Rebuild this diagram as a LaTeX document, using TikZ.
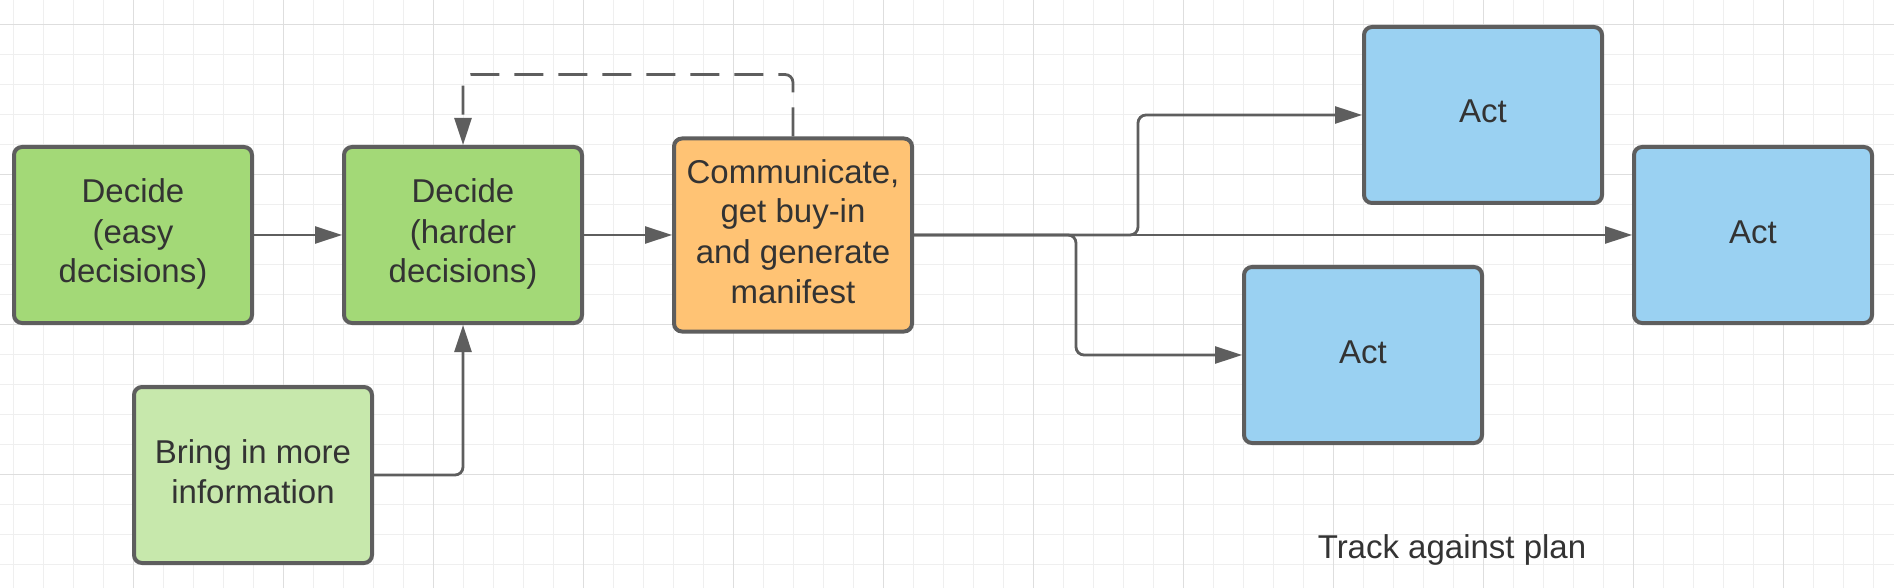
\documentclass[tikz,border=0pt]{standalone}
\usepackage{fontspec}
\setmainfont{Liberation Sans}
\usetikzlibrary{arrows.meta}

\definecolor{DecideGreen}{HTML}{A3D977}
\definecolor{InfoGreen}{HTML}{C7E8AC}
\definecolor{TalkOrange}{HTML}{FFC374}
\definecolor{ActBlue}{HTML}{9AD1F2}
\definecolor{LineGray}{HTML}{5E5E5E}
\definecolor{TextGray}{HTML}{333333}
\definecolor{GridLight}{HTML}{EFEFEF}
\definecolor{GridDark}{HTML}{DEDEDE}

% strut so that every box text sits a little above the middle
\newcommand{\bs}{\rule[-4pt]{0pt}{16pt}}

\tikzstyle{BoxBase} = [draw=LineGray, line width=2pt, rounded corners=4pt, inner sep=0pt, align=center, text=TextGray, minimum width=119pt, minimum height=88pt, font=\fontsize{16.5pt}{20pt}\selectfont]
\tikzstyle{ColorDecide} = [BoxBase, fill=DecideGreen]
\tikzstyle{ColorInfo} = [BoxBase, fill=InfoGreen]
\tikzstyle{ColorTalk} = [BoxBase, fill=TalkOrange, minimum height=96.5pt]
\tikzstyle{ColorAct} = [BoxBase, fill=ActBlue]
\tikzstyle{LineArrow} = [draw=LineGray, line width=1.4pt, rounded corners=4pt, -{Triangle[length=13.5pt,width=8.5pt]}]
\tikzstyle{LineLoop} = [LineArrow, dash pattern=on 14.5pt off 7.5pt]

\begin{document}
\begin{tikzpicture}[x=0.5pt,y=-0.5pt]
\useasboundingbox (0,0) rectangle (1894,588);
\fill[white] (0,0) rectangle (1894,588);

% background grid
\foreach \gx in {0,...,62} \draw[GridLight, line width=0.5pt] ({13.33+30*\gx},0) -- ({13.33+30*\gx},588);
\foreach \gy in {0,...,18} \draw[GridLight, line width=0.5pt] (0,{24.33+30*\gy}) -- (1894,{24.33+30*\gy});
\foreach \gx in {0,...,11} \draw[GridDark, line width=0.5pt] ({133.33+150*\gx},0) -- ({133.33+150*\gx},588);
\foreach \gy in {0,...,3} \draw[GridDark, line width=0.5pt] (0,{24.33+150*\gy}) -- (1894,{24.33+150*\gy});

% boxes
\node[ColorDecide] (easy) at (133,235) {\bs Decide\\(easy\\decisions)\bs};
\node[ColorDecide] (harder) at (463,235) {\bs Decide\\(harder\\decisions)\bs};
\node[ColorInfo] (info) at (253,475) {\bs Bring in more\\information\bs};
\node[ColorTalk] (talk) at (793,235) {\bs Communicate,\\get buy-in\\and generate\\manifest\bs};

\node[ColorAct] (actTop) at (1483,115) {\bs Act\bs};
\node[ColorAct] (actRight) at (1753,235) {\bs Act\bs};
\node[ColorAct] (actLow) at (1363,355) {\bs Act\bs};

\node[text=TextGray, font=\fontsize{16.5pt}{20pt}\selectfont] (track) at (1452,550) {Track against plan};

% connectors
\coordinate (loopTop) at (628,74.5);
\coordinate (forkUp) at (1138,235);
\coordinate (forkLow) at (1076,235);

\draw[LineArrow] (easy.east) -- (harder.west);
\draw[LineArrow] (harder.east) -- (talk.west);
\draw[LineArrow] (info.east) -| (harder.south);
\draw[LineLoop] (talk.north) |- (loopTop) -| (harder.north);

\draw[LineArrow] (talk.east) -- (actRight.west);
\draw[LineArrow] (talk.east) -- (forkUp) |- (actTop.west);
\draw[LineArrow] (talk.east) -- (forkLow) |- (actLow.west);

\end{tikzpicture}
\end{document}
